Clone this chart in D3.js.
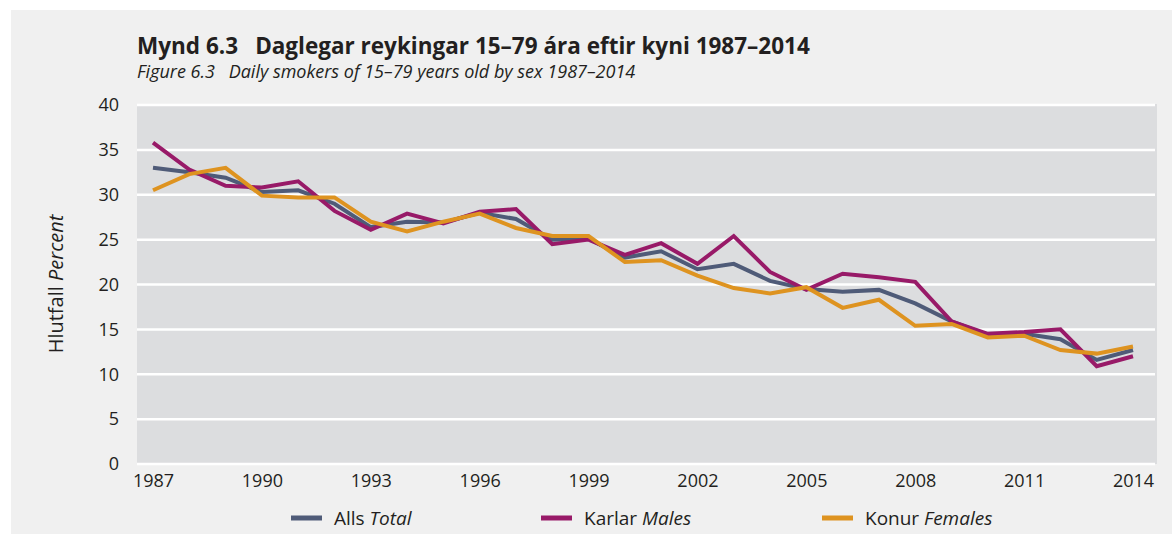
<!DOCTYPE html>
<html>
<head>
<meta charset="utf-8">
<script src="https://cdn.jsdelivr.net/npm/d3@7"></script>
<style>
  body { margin: 0; background: #ffffff; }
  svg { display: block; font-family: "Open Sans", "Noto Sans", sans-serif; }
</style>
</head>
<body>
<svg id="chart"></svg>
<script>
// years on the x axis
const years = d3.range(1987, 2015)

// daily smokers, percent
const total   = [33.0, 32.5, 31.9, 30.3, 30.5, 29.0, 26.4, 27.0, 26.9, 28.0, 27.3, 25.0, 25.1, 23.0,
                 23.7, 21.7, 22.3, 20.4, 19.5, 19.2, 19.4, 17.9, 15.9, 14.4, 14.5, 13.9, 11.6, 12.7]
const males   = [35.8, 32.8, 31.0, 30.8, 31.5, 28.2, 26.1, 27.9, 26.8, 28.1, 28.4, 24.5, 25.0, 23.3,
                 24.6, 22.3, 25.4, 21.4, 19.4, 21.2, 20.8, 20.3, 15.9, 14.5, 14.7, 15.0, 10.9, 12.0]
const females = [30.5, 32.3, 33.0, 29.9, 29.7, 29.7, 27.0, 25.9, 27.0, 27.9, 26.3, 25.4, 25.4, 22.5,
                 22.7, 21.0, 19.6, 19.0, 19.7, 17.4, 18.3, 15.4, 15.6, 14.1, 14.3, 12.7, 12.3, 13.1]

const yTicks = [0, 5, 10, 15, 20, 25, 30, 35, 40]
const xTicks = [1987, 1990, 1993, 1996, 1999, 2002, 2005, 2008, 2011, 2014]

const series = [
  {label: "Alls", en: "Total",   values: total,   color: "#4f5b78"},
  {label: "Karlar", en: "Males", values: males,   color: "#981a68"},
  {label: "Konur", en: "Females", values: females, color: "#de9320"}
]

const width = 1172, height = 534
const plot = {left: 137, right: 1157, top: 104, bottom: 464}

const svg = d3.select("#chart")
              .attr("width", width)
              .attr("height", height)

// light grey panel behind everything
svg.append("rect")
   .attr("x", 11).attr("y", 10)
   .attr("width", width - 11).attr("height", height - 10)
   .attr("fill", "#f0f0f0")

const x = d3.scaleLinear()
            .domain([1987, 2014])
            .range([153, 1133])

const y = d3.scaleLinear()
            .domain([0, 40])
            .range([plot.bottom, plot.top + 1])

svg.append("rect")
   .attr("x", plot.left).attr("y", plot.top)
   .attr("width", plot.right - plot.left).attr("height", plot.bottom - plot.top)
   .attr("fill", "#dcdddf")

// gridlines
svg.append("g")
   .selectAll("line")
   .data(yTicks)
   .join("line")
     .attr("x1", plot.left)
     .attr("x2", plot.right - 2)
     .attr("y1", d => y(d))
     .attr("y2", d => y(d))
     .attr("stroke", "#ffffff")
     .attr("stroke-width", 2.5)

// y axis labels
const yAxis = svg.append("g")
                 .attr("transform", `translate(${plot.left - 18},0)`)
                 .call(d3.axisLeft(y).tickValues(yTicks).tickSize(0).tickPadding(0))
yAxis.select(".domain").remove()
yAxis.selectAll("text")
     .attr("font-size", "18px")
     .attr("font-family", "'Open Sans', sans-serif")
     .attr("fill", "#231f20")

// x axis labels
const xAxis = svg.append("g")
                 .attr("transform", `translate(0,${plot.bottom + 10})`)
                 .call(d3.axisBottom(x).tickValues(xTicks).tickFormat(d3.format("d")).tickSize(0).tickPadding(0))
xAxis.select(".domain").remove()
xAxis.selectAll("text")
     .attr("font-size", "18px")
     .attr("font-family", "'Open Sans', sans-serif")
     .attr("fill", "#231f20")
     .attr("dy", "0.71em")

// lines
const line = d3.line()
               .x((d, i) => x(years[i]))
               .y(d => y(d))

svg.append("g")
   .selectAll("path")
   .data(series)
   .join("path")
     .attr("d", d => line(d.values))
     .attr("fill", "none")
     .attr("stroke", d => d.color)
     .attr("stroke-width", 4)
     .attr("stroke-linejoin", "miter")

// y axis title
const yTitle = svg.append("text")
                  .attr("transform", "translate(63,284) rotate(-90)")
                  .attr("text-anchor", "middle")
                  .attr("font-size", "20px")
                  .attr("fill", "#231f20")
yTitle.append("tspan").text("Hlutfall ")
yTitle.append("tspan").attr("font-style", "italic").text("Percent")

// titles
svg.append("text")
   .attr("x", 137).attr("y", 54)
   .attr("font-size", "22.5px")
   .attr("font-weight", "bold")
   .attr("fill", "#231f20")
   .text("Mynd 6.3\u2002 Daglegar reykingar 15–79 ára eftir kyni 1987–2014")

svg.append("text")
   .attr("x", 137).attr("y", 78)
   .attr("font-size", "18px")
   .attr("font-style", "italic")
   .attr("fill", "#231f20")
   .text("Figure 6.3\u2002 Daily smokers of 15–79 years old by sex 1987–2014")

// legend
const legendX = [291, 541, 822]
const legend = svg.append("g")
                  .selectAll("g")
                  .data(series)
                  .join("g")
                    .attr("transform", (d, i) => `translate(${legendX[i]},518)`)

legend.append("line")
      .attr("x1", 0).attr("x2", 31)
      .attr("stroke", d => d.color)
      .attr("stroke-width", 5)

const lt = legend.append("text")
                 .attr("x", 43)
                 .attr("dy", "0.35em")
                 .attr("font-size", "19px")
                 .attr("fill", "#231f20")
lt.append("tspan").text(d => d.label + " ")
lt.append("tspan").attr("font-style", "italic").text(d => d.en)
</script>
</body>
</html>
